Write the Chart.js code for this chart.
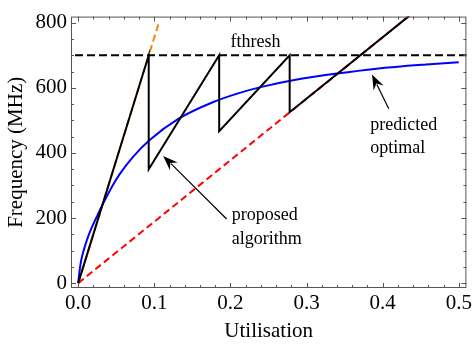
<!DOCTYPE html>
<html>
<head>
<meta charset="utf-8">
<script src="https://cdn.jsdelivr.net/npm/chart.js@4/dist/chart.umd.min.js"></script>
<style>
  html, body { margin: 0; padding: 0; background: #ffffff; }
  #c { display: block; }
</style>
</head>
<body>
<canvas id="c" width="475" height="346"></canvas>
<script>
// ---- Axis ticks ----
const xTickValues = [0.0, 0.1, 0.2, 0.3, 0.4, 0.5];
const yTickValues = [0, 200, 400, 600, 800];

// ---- Series ----
// predicted optimal (blue)
const optimalX = [0, 0.001, 0.0022, 0.0035, 0.0057, 0.0087, 0.013, 0.018, 0.026, 0.033, 0.046, 0.0545, 0.072, 0.0935, 0.1325, 0.176, 0.21, 0.241, 0.284, 0.34, 0.392, 0.457, 0.5];
const optimalY = [0, 22, 45, 65, 88, 113, 143, 172, 212, 246, 303, 335, 388, 439, 506, 555, 583, 603, 624, 644, 659, 672, 679];

// proposed algorithm (black sawtooth)
const proposedX = [0, 0.0926, 0.0926, 0.1852, 0.1852, 0.2778, 0.2778, 0.4352];
const proposedY = [0, 700, 350, 700, 467, 700, 525, 822];

// fthresh (black dashed)
const fthreshX = [-0.02, 0.53];
const fthreshY = [700, 700];

// orange dashed extension of first ramp
const orangeX = [0, 0.1052];
const orangeY = [0, 795];

// red dashed ramp
const redX = [0, 0.4352];
const redY = [0, 822];

// ---- Annotations (data coordinates) ----
const annotations = [
  { lines: ['fthresh'], x: 0.200, y: 739 },
  { lines: ['proposed', 'algorithm'], x: 0.2016, y: 209, step: 74 },
  { lines: ['predicted', 'optimal'], x: 0.3836, y: 486, step: 72 }
];
const arrows = [
  { from: [0.195, 197], to: [0.1116, 391] },
  { from: [0.408, 536], to: [0.386, 641] }
];

const toPts = (xs, ys) => xs.map((x, i) => ({ x: x, y: ys[i] }));

const SERIF = '"Liberation Serif", "DejaVu Serif", serif';
const FRAME = '#555555';

const bgPlugin = {
  id: 'bg',
  beforeDraw(chart) {
    const ctx = chart.ctx;
    ctx.save();
    ctx.fillStyle = '#ffffff';
    ctx.fillRect(0, 0, chart.width, chart.height);
    ctx.restore();
  }
};

function arrowHead(ctx, x1, y1, x2, y2) {
  const ang = Math.atan2(y2 - y1, x2 - x1);
  const L = 15, W = 5.5, notch = 10;
  ctx.save();
  ctx.translate(x2, y2);
  ctx.rotate(ang);
  ctx.beginPath();
  ctx.moveTo(0, 0);
  ctx.lineTo(-L, -W);
  ctx.lineTo(-notch, 0);
  ctx.lineTo(-L, W);
  ctx.closePath();
  ctx.fill();
  ctx.restore();
}

const framePlugin = {
  id: 'frame',
  afterDraw(chart) {
    const ctx = chart.ctx;
    const xs = chart.scales.x, ys = chart.scales.y;
    const a = chart.chartArea;
    ctx.save();
    // frame
    ctx.strokeStyle = FRAME;
    ctx.lineWidth = 1;
    ctx.strokeRect(a.left + 0.5, a.top + 0.5, a.right - a.left - 1, a.bottom - a.top - 1);
    // ticks
    ctx.beginPath();
    for (let i = 0; i <= 25; i++) {
      const v = i * 0.02;
      const px = Math.round(xs.getPixelForValue(v)) + 0.5;
      const len = (i % 5 === 0) ? 5 : 3;
      ctx.moveTo(px, a.bottom); ctx.lineTo(px, a.bottom - len);
      ctx.moveTo(px, a.top); ctx.lineTo(px, a.top + len);
    }
    for (let i = 0; i <= 16; i++) {
      const v = i * 50;
      const py = Math.round(ys.getPixelForValue(v)) + 0.5;
      const len = (i % 4 === 0) ? 5 : 3;
      ctx.moveTo(a.left, py); ctx.lineTo(a.left + len, py);
      ctx.moveTo(a.right, py); ctx.lineTo(a.right - len, py);
    }
    ctx.stroke();

    // annotations
    ctx.fillStyle = '#000';
    ctx.font = '18px ' + SERIF;
    ctx.textAlign = 'left';
    ctx.textBaseline = 'middle';
    annotations.forEach(an => {
      const px = xs.getPixelForValue(an.x);
      an.lines.forEach((t, k) => {
        const py = ys.getPixelForValue(an.y - k * (an.step || 0));
        ctx.fillText(t, px, py);
      });
    });
    // arrows
    ctx.strokeStyle = '#000';
    ctx.lineWidth = 1.2;
    arrows.forEach(ar => {
      const x1 = xs.getPixelForValue(ar.from[0]), y1 = ys.getPixelForValue(ar.from[1]);
      const x2 = xs.getPixelForValue(ar.to[0]), y2 = ys.getPixelForValue(ar.to[1]);
      ctx.beginPath();
      ctx.moveTo(x1, y1);
      const ang = Math.atan2(y2 - y1, x2 - x1);
      ctx.lineTo(x2 - 11 * Math.cos(ang), y2 - 11 * Math.sin(ang));
      ctx.stroke();
      arrowHead(ctx, x1, y1, x2, y2);
    });
    ctx.restore();
  }
};

const lineDs = (label, pts, color, width, dash, smooth) => ({
  label: label,
  data: pts,
  showLine: true,
  borderColor: color,
  backgroundColor: color,
  borderWidth: width,
  borderDash: dash || [],
  pointRadius: 0,
  pointHoverRadius: 0,
  fill: false,
  cubicInterpolationMode: smooth ? 'monotone' : 'default',
  tension: 0,
  clip: 0
});

// Chart.js draws dataset 0 on top, so the list runs top-most first.
new Chart(document.getElementById('c'), {
  type: 'scatter',
  data: {
    datasets: [
      lineDs('fthresh', toPts(fthreshX, fthreshY), '#000000', 2, [8, 4]),
      lineDs('proposed algorithm', toPts(proposedX, proposedY), '#000000', 2),
      lineDs('predicted optimal', toPts(optimalX, optimalY), '#0000ff', 2, null, true),
      lineDs('orange', toPts(orangeX, orangeY), '#ff8000', 2, [7, 4]),
      lineDs('red', toPts(redX, redY), '#ff0000', 2, [7, 4])
    ]
  },
  options: {
    responsive: false,
    devicePixelRatio: 1,
    animation: false,
    events: [],
    layout: { padding: { top: 8, right: 5, left: 0, bottom: 0 } },
    plugins: {
      legend: { display: false },
      tooltip: { enabled: false }
    },
    scales: {
      x: {
        type: 'linear',
        min: -0.0095,
        max: 0.51,
        afterBuildTicks: s => { s.ticks = xTickValues.map(v => ({ value: v })); },
        afterFit: s => { s.height = 58; },
        grid: { display: false, drawTicks: false },
        border: { display: false },
        ticks: {
          autoSkip: false,
          maxRotation: 0,
          padding: 3,
          color: '#000',
          font: { family: SERIF, size: 21 },
          callback: v => Number(v).toFixed(1)
        },
        title: {
          display: true,
          text: 'Utilisation',
          color: '#000',
          font: { family: SERIF, size: 21 },
          padding: { top: 0, bottom: 2 }
        }
      },
      y: {
        type: 'linear',
        min: -15,
        max: 819,
        afterBuildTicks: s => { s.ticks = yTickValues.map(v => ({ value: v })); },
        afterFit: s => { s.width = 71; },
        grid: { display: false, drawTicks: false },
        border: { display: false },
        ticks: {
          autoSkip: false,
          padding: 4,
          color: '#000',
          font: { family: SERIF, size: 21 },
          callback: v => String(v)
        },
        title: {
          display: true,
          text: 'Frequency (MHz)',
          color: '#000',
          font: { family: SERIF, size: 21 },
          padding: { top: 4, bottom: 0 }
        }
      }
    }
  },
  plugins: [bgPlugin, framePlugin]
});
</script>
</body>
</html>
